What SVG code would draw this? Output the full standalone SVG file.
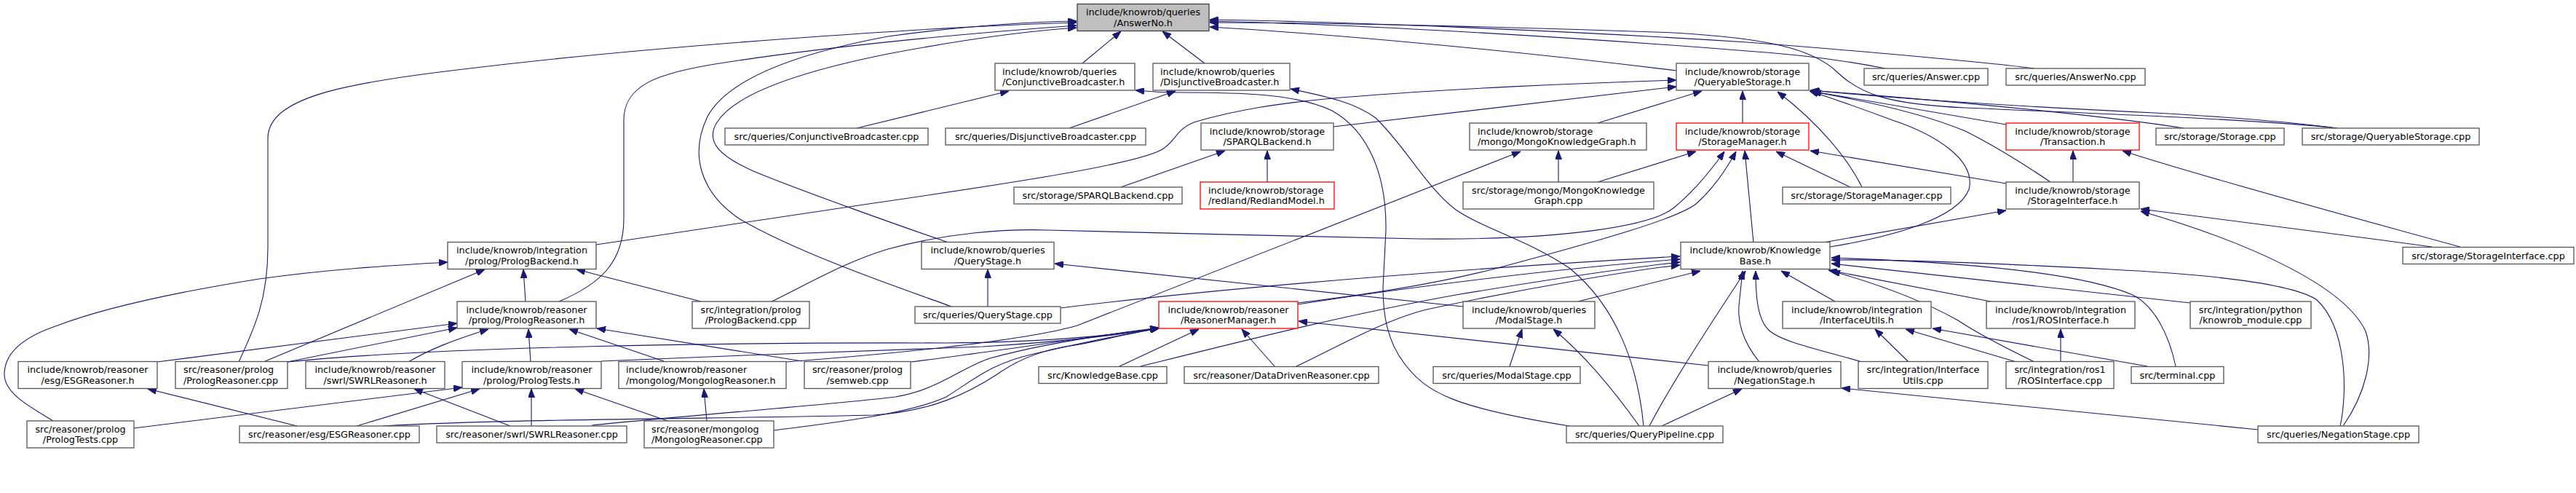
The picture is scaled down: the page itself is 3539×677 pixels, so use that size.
<svg xmlns="http://www.w3.org/2000/svg" width="3539" height="677" viewBox="0 0 3539 677">
<style>
.n rect{fill:#ffffff;stroke:#555555;stroke-width:1.3}
.n.red rect{stroke:#ff0000}
.n.root rect{fill:#bfbfbf;stroke:#404040}
.n text{font-family:"DejaVu Sans","Liberation Sans",sans-serif;font-size:12.8px;fill:#000000}
.c{text-anchor:middle}
#edges path{fill:none;stroke:#191970;stroke-width:1.1;marker-end:url(#ah)}
</style>
<defs>
<marker id="ah" viewBox="0 0 12 9" refX="12" refY="4.5" markerWidth="12" markerHeight="9" markerUnits="userSpaceOnUse" orient="auto">
<path d="M0,0L12,4.5L0,9z" fill="#191970" stroke="#191970" stroke-width="1"/>
</marker>
</defs>
<rect x="0" y="0" width="3539" height="677" fill="#ffffff"/>
<g id="edges">
<path d="M1487,87 L1540,43"/>
<path d="M1655,87 L1597,43"/>
<path d="M328,497 C350,450 368,410 368,340 L368,190 C368,135 470,115 620,97 C900,62 1300,36 1479,31"/>
<path d="M768,414 C825,390 857,360 857,300 L857,165 C857,118 900,100 995,86 C1150,62 1350,44 1479,35"/>
<path d="M1303,333 C1250,315 1100,262 1035,235 C990,215 968,195 985,168 C1010,128 1100,98 1220,74 C1330,53 1420,42 1479,38"/>
<path d="M1307,421 C1250,400 1100,350 1015,300 C960,262 948,210 972,160 C998,112 1080,76 1220,50 C1330,35 1420,30 1479,29"/>
<path d="M2303,97 C2100,72 1850,48 1662,37"/>
<path d="M2590,94 C2520,80 2460,74 2400,70 C2150,50 1850,33 1662,29"/>
<path d="M2795,94 C2700,82 2480,64 2400,58 C2150,42 1850,30 1662,27"/>
<path d="M3211,176 C3120,166 2980,160 2700,148 C2590,143 2555,128 2525,100 C2490,65 2420,52 2300,45 C2050,36 1800,31 1662,31"/>
<path d="M1177,176 L1386,125"/>
<path d="M2156,585 C2000,560 1960,540 1930,500 C1905,468 1900,430 1900,395 L1904,316 C1905,240 1880,180 1830,152 C1780,128 1700,127 1620,127 C1600,127 1580,126 1560,124"/>
<path d="M1469,176 L1615,125"/>
<path d="M2258,585 C2250,500 2220,420 2156,368 C2100,330 2040,315 2000,288 C1960,258 1930,200 1890,162 C1860,140 1820,132 1773,122"/>
<path d="M819,336 L1200,279 C1400,250 1560,225 1595,206 C1615,195 1615,178 1640,168 C1700,150 1760,142 1820,136 C1970,122 2200,113 2303,110"/>
<path d="M1832,174 L2303,119"/>
<path d="M2195,169 L2338,125"/>
<path d="M2394,169 L2394,125"/>
<path d="M2756,171 L2487,125"/>
<path d="M2558,257 C2540,220 2500,170 2442,126"/>
<path d="M2817,250 C2780,225 2740,200 2700,180 C2640,155 2560,138 2490,126"/>
<path d="M2514,339 C2600,325 2690,300 2705,260 C2715,220 2660,185 2600,165 C2560,150 2520,136 2486,125"/>
<path d="M3000,176 C2900,160 2700,140 2487,124"/>
<path d="M3211,176 C3150,168 3050,160 2960,155 C2750,145 2600,135 2488,124"/>
<path d="M1540,257 L1683,207"/>
<path d="M1741,250 L1741,207"/>
<path d="M2141,250 L2141,207"/>
<path d="M1080,497 C1200,488 1400,470 1480,447 L2089,208"/>
<path d="M2195,250 L2330,208"/>
<path d="M2542,257 L2440,208"/>
<path d="M2756,252 L2487,207"/>
<path d="M2409,333 L2397,207"/>
<path d="M1060,414 C1110,390 1160,360 1220,342 C1300,320 1380,314 1440,316 C1600,320 1800,325 1950,328 C2150,330 2270,310 2300,285 C2330,260 2350,235 2369,208"/>
<path d="M1783,416 C1850,408 1950,395 2050,370 C2200,330 2305,300 2330,280 C2355,258 2372,232 2385,208"/>
<path d="M2848,250 L2848,207"/>
<path d="M3380,339 C3200,290 3000,235 2916,207"/>
<path d="M3341,339 C3200,320 3050,300 2941,287"/>
<path d="M3219,585 C3250,540 3262,490 3250,455 C3220,390 3080,330 2941,290"/>
<path d="M2505,333 L2756,289"/>
<path d="M73,578 C40,558 6,540 6,514 C6,480 40,460 79,447 C150,420 250,400 356,383 C450,370 530,365 615,360"/>
<path d="M362,497 L666,370"/>
<path d="M722,414 L719,370"/>
<path d="M963,414 L792,370"/>
<path d="M1357,421 L1357,370"/>
<path d="M2010,421 L1449,362"/>
<path d="M1457,423 C1600,405 1900,375 2308,352"/>
<path d="M1783,418 C1950,392 2150,368 2308,356"/>
<path d="M1567,503 C1700,470 1850,432 2000,405 C2150,380 2250,366 2308,360"/>
<path d="M1781,503 C1830,480 1900,440 1960,425 C2100,395 2250,370 2308,364"/>
<path d="M2168,414 L2336,372"/>
<path d="M2417,497 C2395,470 2385,440 2390,410 L2394,372"/>
<path d="M2266,585 C2300,520 2360,430 2398,372"/>
<path d="M2558,497 C2500,480 2450,470 2432,455 C2413,440 2412,400 2412,372"/>
<path d="M2521,414 L2447,372"/>
<path d="M2740,415 L2512,371"/>
<path d="M2795,497 C2760,480 2720,460 2690,440 C2640,412 2580,390 2516,372"/>
<path d="M2989,503 C2980,460 2960,420 2930,405 C2860,375 2700,360 2516,354"/>
<path d="M3009,416 L2516,362"/>
<path d="M3215,585 C3225,540 3225,450 3182,411 C3140,385 3000,375 2900,370 C2750,362 2600,356 2516,357"/>
<path d="M395,497 C600,476 1000,470 1300,471 C1450,470 1550,458 1592,450"/>
<path d="M826,496 C1000,488 1200,482 1350,476 C1450,470 1540,460 1592,451"/>
<path d="M1251,497 C1350,485 1500,462 1592,450"/>
<path d="M526,585 C700,575 1000,575 1200,570 C1280,565 1330,540 1370,514 C1395,496 1430,480 1477,474 C1520,466 1560,456 1592,451"/>
<path d="M813,584 C950,570 1150,555 1230,545 C1290,535 1320,505 1360,492 C1440,470 1530,458 1592,451"/>
<path d="M1063,591 C1150,580 1250,568 1300,545 C1340,520 1360,500 1420,486 C1490,470 1550,458 1592,451"/>
<path d="M1538,503 L1647,452"/>
<path d="M1751,503 L1706,452"/>
<path d="M2347,502 L1784,441"/>
<path d="M216,497 L628,444"/>
<path d="M395,497 L628,450"/>
<path d="M561,497 C590,480 620,468 671,452"/>
<path d="M729,497 L726,452"/>
<path d="M912,496 L782,452"/>
<path d="M1102,496 L820,451"/>
<path d="M2074,503 L2091,452"/>
<path d="M2252,585 C2220,540 2180,490 2134,452"/>
<path d="M3102,590 L2530,533"/>
<path d="M2283,585 L2393,534"/>
<path d="M2622,497 L2576,452"/>
<path d="M2770,497 L2618,452"/>
<path d="M2950,503 L2655,451"/>
<path d="M2831,497 L2831,452"/>
<path d="M408,585 L203,534"/>
<path d="M701,585 L569,534"/>
<path d="M184,588 L635,532"/>
<path d="M490,585 L659,534"/>
<path d="M730,585 L730,534"/>
<path d="M920,579 L790,534"/>
<path d="M971,578 L967,534"/>
</g>
<g id="n0" class="n root"><rect x="1480" y="5.5" width="181" height="37"/><text class="c" x="1570.5" y="21">include/knowrob/queries</text><text class="c" x="1570.5" y="35.5">/AnswerNo.h</text></g>
<g id="n1" class="n"><rect x="1367" y="87" width="192" height="37"/><text x="1377" y="102.5">include/knowrob/queries</text><text x="1377" y="117">/ConjunctiveBroadcaster.h</text></g>
<g id="n2" class="n"><rect x="1584" y="87" width="188" height="37"/><text x="1594" y="102.5">include/knowrob/queries</text><text x="1594" y="117">/DisjunctiveBroadcaster.h</text></g>
<g id="n3" class="n"><rect x="2303" y="87" width="182" height="37"/><text class="c" x="2394" y="102.5">include/knowrob/storage</text><text class="c" x="2394" y="117">/QueryableStorage.h</text></g>
<g id="n4" class="n"><rect x="2561" y="94" width="170" height="23"/><text class="c" x="2646" y="110">src/queries/Answer.cpp</text></g>
<g id="n5" class="n"><rect x="2756" y="94" width="191" height="23"/><text class="c" x="2851.5" y="110">src/queries/AnswerNo.cpp</text></g>
<g id="n6" class="n"><rect x="996" y="176" width="279" height="23"/><text class="c" x="1135.5" y="192">src/queries/ConjunctiveBroadcaster.cpp</text></g>
<g id="n7" class="n"><rect x="1299" y="176" width="275" height="23"/><text class="c" x="1436.5" y="192">src/queries/DisjunctiveBroadcaster.cpp</text></g>
<g id="n8" class="n"><rect x="1650" y="169" width="182" height="37"/><text class="c" x="1741" y="184.5">include/knowrob/storage</text><text class="c" x="1741" y="199">/SPARQLBackend.h</text></g>
<g id="n9" class="n"><rect x="2019" y="169" width="243" height="37"/><text x="2030" y="184.5">include/knowrob/storage</text><text x="2030" y="199">/mongo/MongoKnowledgeGraph.h</text></g>
<g id="n10" class="n red"><rect x="2303" y="169" width="182" height="37"/><text class="c" x="2394" y="184.5">include/knowrob/storage</text><text class="c" x="2394" y="199">/StorageManager.h</text></g>
<g id="n11" class="n red"><rect x="2756" y="169" width="183" height="37"/><text class="c" x="2847.5" y="184.5">include/knowrob/storage</text><text class="c" x="2847.5" y="199">/Transaction.h</text></g>
<g id="n12" class="n"><rect x="2962" y="176" width="176" height="23"/><text class="c" x="3050" y="192">src/storage/Storage.cpp</text></g>
<g id="n13" class="n"><rect x="3163" y="176" width="243" height="23"/><text class="c" x="3284.5" y="192">src/storage/QueryableStorage.cpp</text></g>
<g id="n14" class="n"><rect x="1393" y="257" width="231" height="23"/><text class="c" x="1508.5" y="273">src/storage/SPARQLBackend.cpp</text></g>
<g id="n15" class="n red"><rect x="1649" y="250" width="184" height="37"/><text x="1660" y="265.5">include/knowrob/storage</text><text x="1660" y="280">/redland/RedlandModel.h</text></g>
<g id="n16" class="n"><rect x="2010" y="250" width="262" height="37"/><text class="c" x="2141" y="265.5">src/storage/mongo/MongoKnowledge</text><text class="c" x="2141" y="280">Graph.cpp</text></g>
<g id="n17" class="n"><rect x="2449" y="257" width="231" height="23"/><text class="c" x="2564.5" y="273">src/storage/StorageManager.cpp</text></g>
<g id="n18" class="n"><rect x="2756" y="250" width="183" height="37"/><text class="c" x="2847.5" y="265.5">include/knowrob/storage</text><text class="c" x="2847.5" y="280">/StorageInterface.h</text></g>
<g id="n19" class="n"><rect x="615" y="332.5" width="204" height="37"/><text class="c" x="717" y="348">include/knowrob/integration</text><text class="c" x="717" y="362.5">/prolog/PrologBackend.h</text></g>
<g id="n20" class="n"><rect x="1266" y="332.5" width="182" height="37"/><text class="c" x="1357" y="348">include/knowrob/queries</text><text class="c" x="1357" y="362.5">/QueryStage.h</text></g>
<g id="n21" class="n"><rect x="2309" y="332.5" width="205" height="37"/><text class="c" x="2411.5" y="348">include/knowrob/Knowledge</text><text class="c" x="2411.5" y="362.5">Base.h</text></g>
<g id="n22" class="n"><rect x="3301" y="339.5" width="235" height="23"/><text class="c" x="3418.5" y="355.5">src/storage/StorageInterface.cpp</text></g>
<g id="n23" class="n"><rect x="628" y="414" width="191" height="37"/><text class="c" x="723.5" y="429.5">include/knowrob/reasoner</text><text class="c" x="723.5" y="444">/prolog/PrologReasoner.h</text></g>
<g id="n24" class="n"><rect x="951" y="414" width="161" height="37"/><text class="c" x="1031.5" y="429.5">src/integration/prolog</text><text class="c" x="1031.5" y="444">/PrologBackend.cpp</text></g>
<g id="n25" class="n"><rect x="1257" y="421" width="200" height="23"/><text class="c" x="1357" y="437">src/queries/QueryStage.cpp</text></g>
<g id="n26" class="n red"><rect x="1592" y="414" width="191" height="37"/><text class="c" x="1687.5" y="429.5">include/knowrob/reasoner</text><text class="c" x="1687.5" y="444">/ReasonerManager.h</text></g>
<g id="n27" class="n"><rect x="2010" y="414" width="181" height="37"/><text class="c" x="2100.5" y="429.5">include/knowrob/queries</text><text class="c" x="2100.5" y="444">/ModalStage.h</text></g>
<g id="n28" class="n"><rect x="2449" y="414" width="204" height="37"/><text class="c" x="2551" y="429.5">include/knowrob/integration</text><text class="c" x="2551" y="444">/InterfaceUtils.h</text></g>
<g id="n29" class="n"><rect x="2729" y="414" width="204" height="37"/><text class="c" x="2831" y="429.5">include/knowrob/integration</text><text class="c" x="2831" y="444">/ros1/ROSInterface.h</text></g>
<g id="n30" class="n"><rect x="3009" y="414" width="166" height="37"/><text class="c" x="3092" y="429.5">src/integration/python</text><text class="c" x="3092" y="444">/knowrob_module.cpp</text></g>
<g id="n31" class="n"><rect x="25" y="496.5" width="191" height="37"/><text class="c" x="120.5" y="512">include/knowrob/reasoner</text><text class="c" x="120.5" y="526.5">/esg/ESGReasoner.h</text></g>
<g id="n32" class="n"><rect x="241" y="496.5" width="154" height="37"/><text x="252" y="512">src/reasoner/prolog</text><text x="252" y="526.5">/PrologReasoner.cpp</text></g>
<g id="n33" class="n"><rect x="420" y="496.5" width="191" height="37"/><text class="c" x="515.5" y="512">include/knowrob/reasoner</text><text class="c" x="515.5" y="526.5">/swrl/SWRLReasoner.h</text></g>
<g id="n34" class="n"><rect x="635" y="496.5" width="191" height="37"/><text class="c" x="730.5" y="512">include/knowrob/reasoner</text><text class="c" x="730.5" y="526.5">/prolog/PrologTests.h</text></g>
<g id="n35" class="n"><rect x="850" y="496.5" width="230" height="37"/><text x="860" y="512">include/knowrob/reasoner</text><text x="860" y="526.5">/mongolog/MongologReasoner.h</text></g>
<g id="n36" class="n"><rect x="1105" y="496.5" width="146" height="37"/><text class="c" x="1178" y="512">src/reasoner/prolog</text><text class="c" x="1178" y="526.5">/semweb.cpp</text></g>
<g id="n37" class="n"><rect x="1427" y="503.5" width="176" height="23"/><text class="c" x="1515" y="519.5">src/KnowledgeBase.cpp</text></g>
<g id="n38" class="n"><rect x="1627" y="503.5" width="267" height="23"/><text class="c" x="1760.5" y="519.5">src/reasoner/DataDrivenReasoner.cpp</text></g>
<g id="n39" class="n"><rect x="1969" y="503.5" width="202" height="23"/><text class="c" x="2070" y="519.5">src/queries/ModalStage.cpp</text></g>
<g id="n40" class="n"><rect x="2347" y="496.5" width="182" height="37"/><text class="c" x="2438" y="512">include/knowrob/queries</text><text class="c" x="2438" y="526.5">/NegationStage.h</text></g>
<g id="n41" class="n"><rect x="2553" y="496.5" width="178" height="37"/><text class="c" x="2642" y="512">src/integration/Interface</text><text class="c" x="2642" y="526.5">Utils.cpp</text></g>
<g id="n42" class="n"><rect x="2756" y="496.5" width="148" height="37"/><text class="c" x="2830" y="512">src/integration/ros1</text><text class="c" x="2830" y="526.5">/ROSInterface.cpp</text></g>
<g id="n43" class="n"><rect x="2928" y="503.5" width="127" height="23"/><text class="c" x="2991.5" y="519.5">src/terminal.cpp</text></g>
<g id="n44" class="n"><rect x="37" y="578" width="147" height="37"/><text class="c" x="110.5" y="593.5">src/reasoner/prolog</text><text class="c" x="110.5" y="608">/PrologTests.cpp</text></g>
<g id="n45" class="n"><rect x="329" y="585" width="247" height="23"/><text class="c" x="452.5" y="601">src/reasoner/esg/ESGReasoner.cpp</text></g>
<g id="n46" class="n"><rect x="600" y="585" width="261" height="23"/><text class="c" x="730.5" y="601">src/reasoner/swrl/SWRLReasoner.cpp</text></g>
<g id="n47" class="n"><rect x="885" y="578" width="178" height="37"/><text x="895" y="593.5">src/reasoner/mongolog</text><text x="895" y="608">/MongologReasoner.cpp</text></g>
<g id="n48" class="n"><rect x="2152" y="585" width="215" height="23"/><text class="c" x="2259.5" y="601">src/queries/QueryPipeline.cpp</text></g>
<g id="n49" class="n"><rect x="3102" y="585" width="221" height="23"/><text class="c" x="3212.5" y="601">src/queries/NegationStage.cpp</text></g>
</svg>
